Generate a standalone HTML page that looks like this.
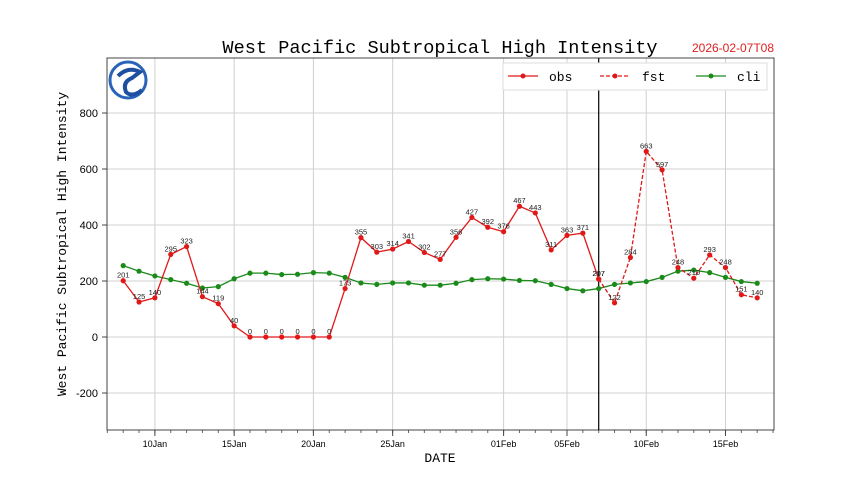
<!DOCTYPE html>
<html><head><meta charset="utf-8"><style>
body{margin:0;background:#fff}
svg{display:block;font-family:"Liberation Sans","DejaVu Sans",sans-serif}
</style></head><body>
<svg id="c" width="860" height="483" viewBox="0 0 860 483">
<g id="grid"></g>
<rect x="107" y="58" width="667" height="372" fill="none" stroke="#444" stroke-width="1"/>
<text x="440" y="53" text-anchor="middle" font-family="'Liberation Mono','DejaVu Sans Mono',monospace" font-size="18.6" fill="#000">West Pacific Subtropical High Intensity</text>
<text x="733" y="52" text-anchor="middle" font-size="12" fill="#e02020">2026-02-07T08</text>
<text transform="translate(66,244) rotate(-90)" text-anchor="middle" font-family="'Liberation Mono','DejaVu Sans Mono',monospace" font-size="13">West Pacific Subtropical High Intensity</text>
<text x="440" y="462" text-anchor="middle" font-family="'Liberation Mono','DejaVu Sans Mono',monospace" font-size="13">DATE</text>
<g>
<circle cx="128" cy="80" r="18" fill="none" stroke="#2a64b8" stroke-width="3"/>
<path d="M118 76 Q128 66 140 72 L132 78 Q122 82 126 92 Q132 98 142 90" fill="none" stroke="#1f4fa0" stroke-width="4"/>
</g>
<g id="series"></g>
<g>
<rect x="503" y="63" width="264" height="27" fill="#fff" stroke="#ddd"/>
<line x1="508" y1="76" x2="538" y2="76" stroke="#e01818" stroke-width="1.3"/><circle cx="523" cy="76" r="2.5" fill="#e01818"/>
<text x="549" y="81" font-family="'Liberation Mono',monospace" font-size="13">obs</text>
<line x1="600" y1="76" x2="630" y2="76" stroke="#e01818" stroke-width="1.3" stroke-dasharray="4,2"/><circle cx="615" cy="76" r="2.5" fill="#e01818"/>
<text x="642" y="81" font-family="'Liberation Mono',monospace" font-size="13">fst</text>
<line x1="696" y1="76" x2="726" y2="76" stroke="#1a8a1a" stroke-width="1.3"/><circle cx="711" cy="76" r="2.5" fill="#1a8a1a"/>
<text x="737" y="81" font-family="'Liberation Mono',monospace" font-size="13">cli</text>
</g>
</svg>
<script>
const yTicks=[-200,0,200,400,600,800];
const xTickDays=[2,7,12,17,24,28,33,38];
const xTickLabels=["10Jan","15Jan","20Jan","25Jan","01Feb","05Feb","10Feb","15Feb"];
const obsValues=[201,125,140,295,323,144,119,40,0,0,0,0,0,0,173,355,303,314,341,302,277,356,427,392,376,467,443,311,363,371,207];
const fstValues=[207,122,284,663,597,248,210,293,248,151,140];
const fstStart=30;
const cliValues=[255,235,218,205,192,175,180,208,228,228,223,224,230,228,213,193,188,193,193,185,185,192,205,208,207,202,201,188,173,165,173,188,193,198,213,235,239,230,213,198,192];
const nowDay=30;
const NS="http://www.w3.org/2000/svg";
const X=d=>123.2+d*15.85;
const Y=v=>337-v*0.28;
function mk(tag,at,par){const e=document.createElementNS(NS,tag);for(const k in at)e.setAttribute(k,at[k]);par.appendChild(e);return e;}
const g=document.getElementById('grid'),s=document.getElementById('series');
yTicks.forEach(v=>{
  const l=mk('line',{x1:107,x2:774,y1:Y(v),y2:Y(v),stroke:'#d0d0d0'},g);
  
  
  mk('line',{x1:102,x2:107,y1:Y(v),y2:Y(v),stroke:'#444'},g);
  const t=mk('text',{x:98,y:Y(v)+4,'text-anchor':'end','font-size':11},g);t.textContent=v;
  
  
});
for(let d=-1;d<=41;d++){const x=X(d);if(x<107||x>774)continue;mk('line',{x1:x,x2:x,y1:430,y2:433,stroke:'#666'},g);}
xTickDays.forEach((d,i)=>{
  const l=mk('line',{x1:X(d),x2:X(d),y1:58,y2:430,stroke:'#d0d0d0'},g);
  
  
  mk('line',{x1:X(d),x2:X(d),y1:430,y2:436,stroke:'#444'},g);
  const t=mk('text',{x:X(d),y:447,'text-anchor':'middle','font-size':9},g);t.textContent=xTickLabels[i];
  
  
});
const now=mk('line',{x1:X(nowDay),x2:X(nowDay),y1:58,y2:430,stroke:'#000','stroke-width':1.2},s);


function series(vals,start,color,dash,name,labels){
  const pts=vals.map((v,i)=>X(start+i)+','+Y(v)).join(' ');
  const p=mk('polyline',{points:pts,fill:'none',stroke:color,'stroke-width':1.3},s);
  if(dash)p.setAttribute('stroke-dasharray','4,2');
  
  
  vals.forEach((v,i)=>{
    const c=mk('circle',{cx:X(start+i),cy:Y(v),r:2.6,fill:color},s);
    
    
    if(labels){const t=mk('text',{x:X(start+i),y:Y(v)-3,'text-anchor':'middle','font-size':7.5,fill:'#222'},s);t.textContent=v;
      
      }
  });
}
series(cliValues,0,'#1a8a1a',false,'cli',false);
series(fstValues,fstStart,'#e01818',true,'fst',true);
series(obsValues,0,'#e01818',false,'obs',true);
</script>
</body></html>
